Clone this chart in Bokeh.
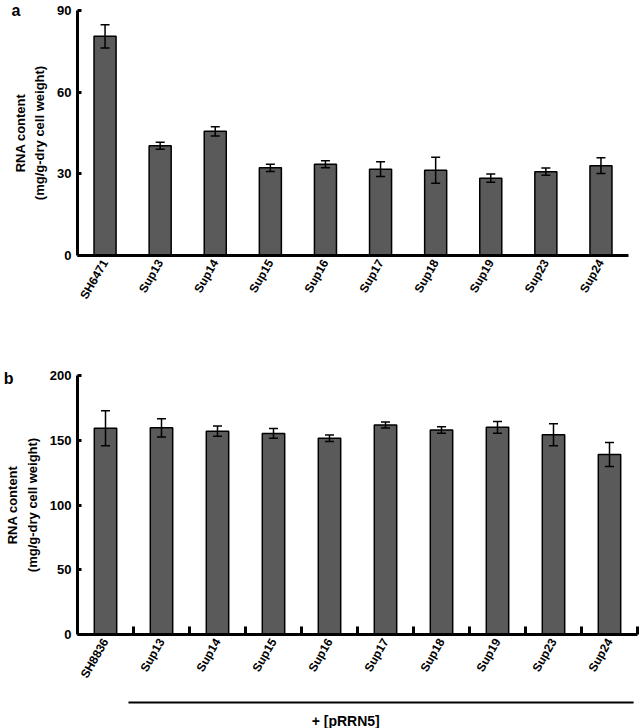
import numpy as np
from bokeh.plotting import figure
from bokeh.layouts import column
from bokeh.models import Range1d, FixedTicker, Whisker, TeeHead, ColumnDataSource, LinearAxis
from bokeh.embed import file_html
from bokeh.resources import INLINE

# ---- data ----
cats_a = ["SH6471", "Sup13", "Sup14", "Sup15", "Sup16", "Sup17", "Sup18", "Sup19", "Sup23", "Sup24"]
rna_a = [80.5, 40.3, 45.6, 32.2, 33.5, 31.7, 31.3, 28.4, 30.8, 33.0]
err_a = [4.3, 1.3, 1.7, 1.3, 1.3, 2.7, 4.8, 1.5, 1.3, 2.9]
ticks_a = [0, 30, 60, 90]

cats_b = ["SH8836", "Sup13", "Sup14", "Sup15", "Sup16", "Sup17", "Sup18", "Sup19", "Sup23", "Sup24"]
rna_b = [159.3, 159.6, 157.0, 155.3, 151.6, 161.7, 158.0, 160.0, 154.2, 139.0]
err_b = [13.5, 7.0, 4.0, 3.7, 2.5, 2.3, 2.5, 4.5, 8.5, 9.3]
ticks_b = [0, 50, 100, 150, 200]

y_label = "RNA content\n(mg/g-dry cell weight)"
group_label = "+ [pRRN5]"

FONT = "Liberation Sans"
BAR = "#5a5a5a"
LEFT = 75
RIGHT = 3
W = 640


def panel(cats, vals, errs, ticks, letter, letter_pos, height, mb_top, mb_bottom, end_pad, boundary):
    x = list(range(len(cats)))
    p = figure(width=W, height=height,
               x_range=Range1d(-0.5, len(cats) - 0.5 + end_pad),
               y_range=Range1d(ticks[0], ticks[-1]),
               output_backend="svg", toolbar_location=None,
               min_border_left=LEFT, min_border_right=RIGHT,
               min_border_top=mb_top, min_border_bottom=mb_bottom)
    p.xgrid.visible = False
    p.ygrid.visible = False
    p.outline_line_color = None
    p.background_fill_color = None
    p.border_fill_color = "white"

    src = ColumnDataSource(dict(
        x=x, top=vals,
        upper=[v + e for v, e in zip(vals, errs)],
        lower=[v - e for v, e in zip(vals, errs)]))
    p.vbar(x="x", top="top", width=0.4, source=src,
           fill_color=BAR, line_color="black", line_width=1.5)
    w = Whisker(base="x", upper="upper", lower="lower", source=src,
                line_color="black", line_width=1.5, level="overlay",
                upper_head=TeeHead(size=9, line_width=1.5, line_color="black"),
                lower_head=TeeHead(size=9, line_width=1.5, line_color="black"))
    p.add_layout(w)

    xa = p.xaxis[0]
    xa.bounds = (-0.5, len(cats) - 0.5)
    xa.ticker = FixedTicker(ticks=x, minor_ticks=[i + 0.5 for i in x] if boundary else [])
    xa.major_label_overrides = {i: c for i, c in enumerate(cats)}
    xa.major_tick_in = 0
    xa.major_tick_out = 0
    xa.minor_tick_in = 8 if boundary else 0
    xa.minor_tick_out = 0
    xa.minor_tick_line_width = 3
    xa.minor_tick_line_color = "black"
    xa.axis_line_width = 3
    xa.axis_line_color = "black"
    xa.major_label_orientation = np.pi / 3
    xa.major_label_text_font = FONT
    xa.major_label_text_font_style = "bold"
    xa.major_label_text_font_size = "12px"
    xa.major_label_text_color = "black"
    xa.major_label_standoff = 5

    ya = p.yaxis[0]
    ya.ticker = FixedTicker(ticks=ticks, minor_ticks=[])
    ya.major_tick_in = 4
    ya.major_tick_out = 0
    ya.major_tick_line_width = 3
    ya.major_tick_line_color = "black"
    ya.minor_tick_in = 0
    ya.minor_tick_out = 0
    ya.axis_line_width = 3
    ya.axis_line_color = "black"
    ya.major_label_text_font = FONT
    ya.major_label_text_font_style = "bold"
    ya.major_label_text_font_size = "13px"
    ya.major_label_text_color = "black"
    ya.major_label_standoff = 6
    ya.axis_label = y_label
    ya.axis_label_text_font = FONT
    ya.axis_label_text_font_style = "bold"
    ya.axis_label_text_font_size = "13px"
    ya.axis_label_text_line_height = 1.3
    ya.axis_label_text_color = "black"
    ya.axis_label_standoff = 7

    # panel letter: an outer left axis carrying one label near the top of the range
    la = LinearAxis(ticker=FixedTicker(ticks=[letter_pos], minor_ticks=[]),
                    major_label_overrides={letter_pos: letter},
                    axis_line_color=None, major_tick_line_color=None,
                    minor_tick_line_color=None,
                    major_tick_in=0, major_tick_out=0, minor_tick_in=0, minor_tick_out=0,
                    major_label_standoff=-11,
                    major_label_text_font=FONT, major_label_text_font_style="bold",
                    major_label_text_font_size="16px", major_label_text_color="black")
    p.add_layout(la, "left")
    return p


# panel a is drawn slightly narrower than panel b: its x range runs on past the last category
pa = panel(cats_a, rna_a, err_a, ticks_a, "a", 90, 350, 10, 95, 0.163, False)
pb = panel(cats_b, rna_b, err_b, ticks_b, "b", 198, 340, 25, 56, 0.0, True)

# group bracket under panel b
pc = figure(width=W, height=38, x_range=pb.x_range, y_range=Range1d(0, 1),
            output_backend="svg", toolbar_location=None,
            min_border_left=LEFT, min_border_right=RIGHT, min_border_top=0, min_border_bottom=0)
pc.axis.visible = False
pc.xgrid.visible = False
pc.ygrid.visible = False
pc.outline_line_color = None
pc.background_fill_color = None
first, last = 1, len(cats_b) - 1
pc.segment(x0=[first - 0.59], y0=[0.684], x1=[last + 0.43], y1=[0.684],
           line_color="black", line_width=2)
pc.text(x=[(first + last) / 2 - 0.71], y=[0.21], text=[group_label],
        text_font={"value": FONT}, text_font_style="bold", text_font_size="14px",
        text_align="center", text_baseline="middle", text_color="black")

layout = column(pa, pb, pc, spacing=0)
open("out.html", "w").write(file_html(layout, INLINE))
